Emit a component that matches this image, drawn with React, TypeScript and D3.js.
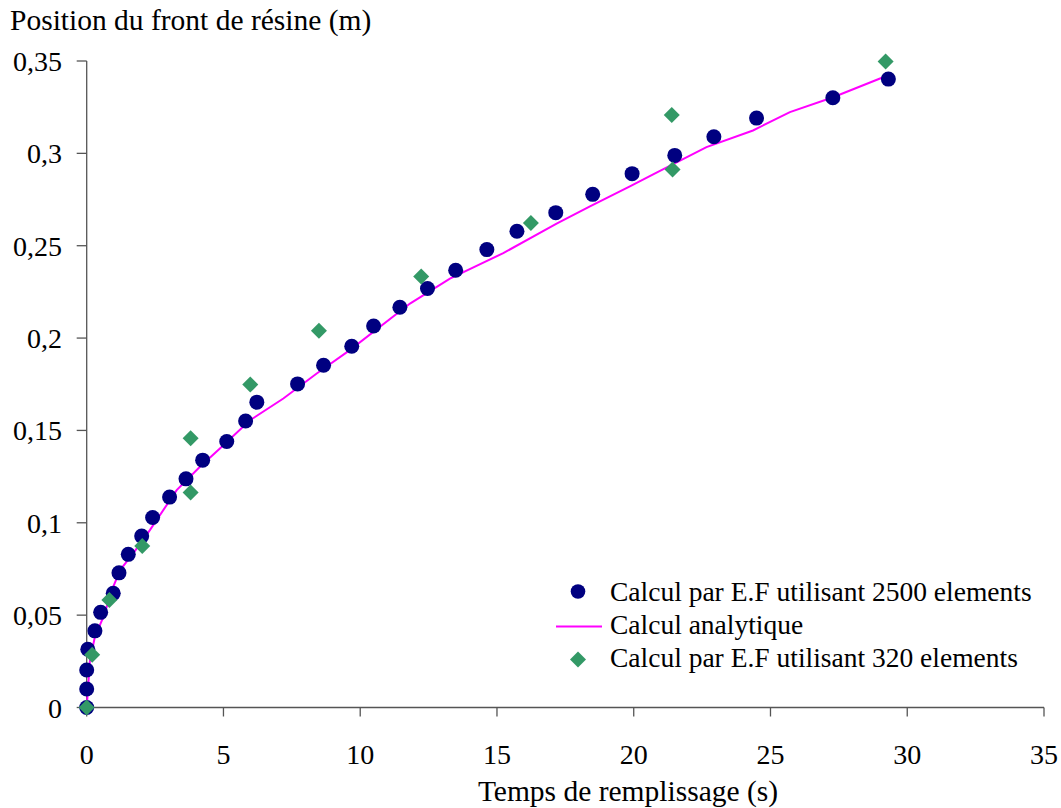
import React from "react";
import * as d3 from "d3";

// Finite-element solution, 2500 elements: time (s) and front position (m)
const fe2500Time = [0, 0, 0, 0.04, 0.3, 0.51, 0.97, 1.18, 1.52, 2.01, 2.41, 3.03, 3.63, 4.24, 5.12, 5.81, 6.22, 7.71, 8.66, 9.69, 10.49, 11.45, 12.46, 13.49, 14.63, 15.73, 17.15, 18.5, 19.94, 21.5, 22.93, 24.49, 27.28, 29.31];
const fe2500Pos = [0, 0.01, 0.0203, 0.0315, 0.0415, 0.0515, 0.0618, 0.0729, 0.0829, 0.0928, 0.1029, 0.1139, 0.1238, 0.1339, 0.144, 0.1551, 0.1653, 0.1752, 0.1853, 0.1956, 0.2065, 0.2167, 0.2268, 0.2367, 0.2479, 0.2578, 0.2679, 0.2778, 0.289, 0.2989, 0.309, 0.3191, 0.3301, 0.3402];

// Analytical solution
const analyticTime = [0, 0.12, 0.3, 0.61, 0.97, 1.22, 1.7, 2.31, 3.29, 4.14, 4.87, 5.97, 7.19, 8.41, 9.62, 11.82, 13.28, 15.23, 17.18, 18.4, 19.86, 20.71, 22.66, 24.36, 25.71, 27.29, 29.12];
const analyticPos = [0, 0.0257, 0.0383, 0.0491, 0.0653, 0.0744, 0.0834, 0.096, 0.1177, 0.1303, 0.1402, 0.1555, 0.1673, 0.1808, 0.1935, 0.2187, 0.2322, 0.246, 0.2619, 0.2713, 0.2821, 0.2886, 0.3034, 0.3124, 0.3223, 0.3304, 0.3412];

// Finite-element solution, 320 elements
const fe320Time = [0, 0.2, 0.83, 2.03, 3.8, 3.8, 5.98, 8.49, 12.23, 16.24, 21.42, 21.39, 29.21];
const fe320Pos = [0, 0.0286, 0.0582, 0.0875, 0.1164, 0.1458, 0.1748, 0.204, 0.2334, 0.2623, 0.2913, 0.3207, 0.3497];

const xTicks = [0, 5, 10, 15, 20, 25, 30, 35];
const xTickLabels = ["0", "5", "10", "15", "20", "25", "30", "35"];
const yTicks = [0, 0.05, 0.1, 0.15, 0.2, 0.25, 0.3, 0.35];
const yTickLabels = ["0", "0,05", "0,1", "0,15", "0,2", "0,25", "0,3", "0,35"];

const legendLabels = [
  "Calcul par E.F utilisant 2500 elements",
  "Calcul analytique",
  "Calcul par E.F utilisant 320 elements",
];

const FONT = "Liberation Serif, Times New Roman, serif";
const NAVY = "#000080";
const GREEN = "#339966";
const MAGENTA = "#FF00FF";
const AXIS = "#555555";

export default function App() {
  const width = 1061;
  const height = 808;
  const x = d3.scaleLinear().domain([0, 35]).range([86.7, 1044]);
  const y = d3.scaleLinear().domain([0, 0.35]).range([707.5, 61]);

  const line = d3
    .line<number>()
    .x((_, i) => x(analyticTime[i]))
    .y((d) => y(d))
    .curve(d3.curveLinear);

  const diamond = (cx: number, cy: number, h: number) =>
    `M${cx},${cy - h}L${cx + h},${cy}L${cx},${cy + h}L${cx - h},${cy}Z`;

  const [x0, x1] = x.range();
  const [y0, y1] = y.range();
  const txt = { fontFamily: FONT, fill: "#000" };

  return (
    <svg
      width={width}
      height={height}
      style={{ position: "absolute", left: 0, top: 0, background: "#fff" }}
    >
      <rect width={width} height={height} fill="#fff" />

      {/* axes */}
      <line x1={x0} x2={x0} y1={y1} y2={y0} stroke={AXIS} strokeWidth={1.3} />
      <line x1={x0} x2={x1} y1={y0} y2={y0} stroke={AXIS} strokeWidth={1.3} />
      {yTicks.map((t, i) => (
        <g key={"y" + i}>
          <line x1={x0 - 10} x2={x0} y1={y(t)} y2={y(t)} stroke={AXIS} strokeWidth={1.3} />
          <text x={62} y={y(t) + 10} textAnchor="end" fontSize={28} style={txt}>
            {yTickLabels[i]}
          </text>
        </g>
      ))}
      {xTicks.map((t, i) => (
        <g key={"x" + i}>
          <line x1={x(t)} x2={x(t)} y1={y0} y2={y0 + 9} stroke={AXIS} strokeWidth={1.3} />
          <text x={x(t)} y={764} textAnchor="middle" fontSize={28} style={txt}>
            {xTickLabels[i]}
          </text>
        </g>
      ))}

      {/* axis titles */}
      <text x={10} y={30} fontSize={29.5} style={txt}>
        Position du front de résine (m)
      </text>
      <text x={628} y={801} textAnchor="middle" fontSize={29.5} style={txt}>
        Temps de remplissage (s)
      </text>

      {/* analytical curve */}
      <path d={line(analyticPos) || ""} fill="none" stroke={MAGENTA} strokeWidth={2} />

      {/* FE 2500 elements */}
      {fe2500Pos.map((v, i) => (
        <circle key={"c" + i} cx={x(fe2500Time[i])} cy={y(v)} r={7.5} fill={NAVY} />
      ))}

      {/* FE 320 elements */}
      {fe320Pos.map((v, i) => (
        <path key={"d" + i} d={diamond(x(fe320Time[i]), y(v), 8)} fill={GREEN} />
      ))}

      {/* legend */}
      <g>
        <circle cx={578} cy={591.5} r={7.3} fill={NAVY} />
        <text x={610} y={601} fontSize={27.5} style={txt}>{legendLabels[0]}</text>
        <line x1={556} x2={602} y1={626.5} y2={626.5} stroke={MAGENTA} strokeWidth={2} />
        <text x={610} y={634} fontSize={27.5} style={txt}>{legendLabels[1]}</text>
        <path d={diamond(578, 659.5, 8)} fill={GREEN} />
        <text x={610} y={667} fontSize={27.5} style={txt}>{legendLabels[2]}</text>
      </g>
    </svg>
  );
}
